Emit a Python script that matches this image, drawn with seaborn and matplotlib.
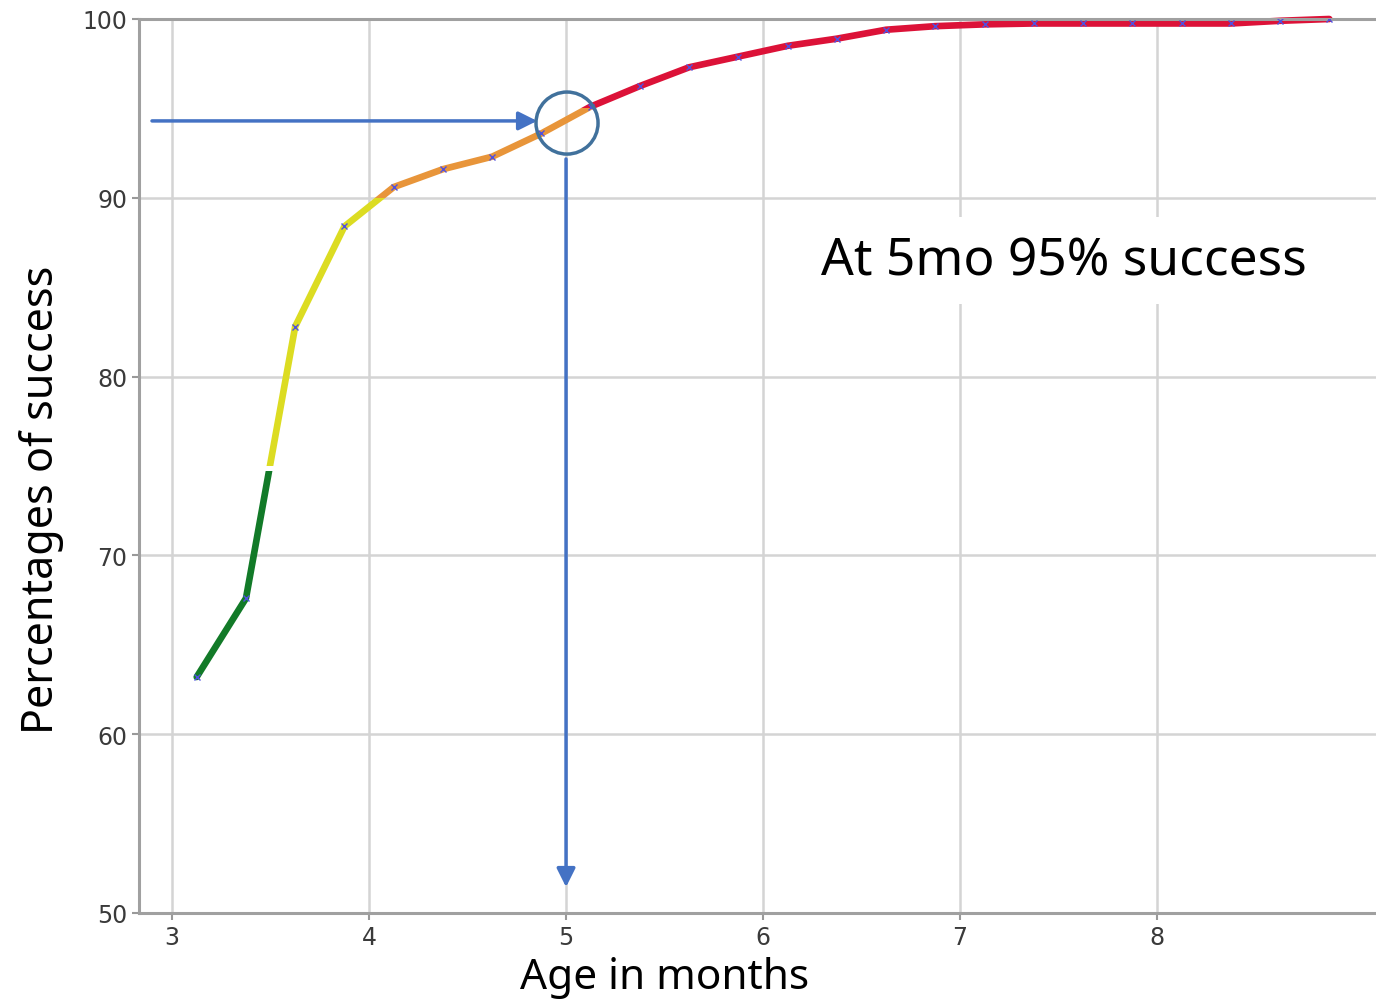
import numpy as np
import pandas as pd
import matplotlib
matplotlib.use("Agg")
import matplotlib.pyplot as plt
from matplotlib.patches import Rectangle, Ellipse
import seaborn as sns

# данные
age_months = [3.125, 3.375, 3.625, 3.875, 4.125, 4.375, 4.625, 4.875,
              5.125, 5.375, 5.625, 5.875, 6.125, 6.375, 6.625, 6.875,
              7.125, 7.375, 7.625, 7.875, 8.125, 8.375, 8.625, 8.875]
success_pct = [63.2, 67.6, 82.8, 88.4, 90.6, 91.6, 92.3, 93.6,
               95.1, 96.25, 97.3, 97.9, 98.5, 98.9, 99.4, 99.6,
               99.7, 99.75, 99.75, 99.75, 99.75, 99.75, 99.9, 100.0]

# цветовые зоны по проценту успеха
band_low = [40.0, 75.0, 90.0, 95.0]
band_high = [74.7, 90.0, 95.0, 101.0]
band_colors = ["#127a28", "#dcdc22", "#e8953a", "#dc1238"]

df = pd.DataFrame({"age": age_months, "pct": success_pct})

sns.set_style("white")
plt.rcParams["font.family"] = ["DejaVu Sans"]

fig = plt.figure(figsize=(13.76, 10.04), dpi=100)
ax = fig.add_axes([139 / 1376, 1 - 914 / 1004, 1 - 139 / 1376, (914 - 20) / 1004])

ax.set_xlim(2.832, 9.112)
ax.set_ylim(50, 100)

# цветные участки через обрезку по горизонтальным полосам
for lo, hi, col in zip(band_low, band_high, band_colors):
    sns.lineplot(data=df, x="age", y="pct", ax=ax, color=col, lw=4.8, zorder=2)
    line = ax.lines[-1]
    clip = Rectangle((0, lo), 20, hi - lo, transform=ax.transData)
    line.set_clip_path(clip)

# мелкие синие маркеры поверх линии
sns.lineplot(data=df, x="age", y="pct", ax=ax, color="#5a5aff", lw=0,
             marker="x", markersize=4, markeredgewidth=1.0,
             markeredgecolor="#5050e0", zorder=4)

ax.set_xticks([3, 4, 5, 6, 7, 8])
ax.set_yticks([50, 60, 70, 80, 90, 100])
ax.grid(True, color="#d4d4d4", lw=1.8, zorder=0)
ax.set_axisbelow(True)
ax.tick_params(axis="both", labelsize=17, labelcolor="#3a3a3a", color="#999999",
               length=5, width=1.5, direction="out", bottom=True, left=True)
for side in ["left", "bottom", "top"]:
    ax.spines[side].set_color("#a0a0a0")
    ax.spines[side].set_linewidth(2.2)
ax.spines["right"].set_visible(False)
ax.set_xlabel("")
ax.set_ylabel("")

# аннотации: стрелки и кружок
arrow_col = "#4472C4"
ax.annotate("", xy=(4.853, 94.3), xytext=(2.898, 94.3),
            arrowprops=dict(arrowstyle="-|>", color=arrow_col, lw=2.5,
                            mutation_scale=28, shrinkA=0, shrinkB=0), zorder=5)
ax.annotate("", xy=(5.0, 51.45), xytext=(5.0, 92.17),
            arrowprops=dict(arrowstyle="-|>", color=arrow_col, lw=2.5,
                            mutation_scale=28, shrinkA=0, shrinkB=0), zorder=5)
ax.add_patch(Ellipse((5.005, 94.18), 0.315, 3.47, fill=False,
                     edgecolor="#41719C", lw=2.5, zorder=6))

ax.text(7.528, 86.47, "At 5mo 95% success", fontsize=37, family=["Noto Sans", "DejaVu Sans"],
        ha="center", va="center", color="black", zorder=7,
        bbox=dict(boxstyle="square,pad=0.35", facecolor="white", edgecolor="none"))

fig.text(665 / 1376, 1 - 978 / 1004, "Age in months", fontsize=30.5, color="black",
         family=["Noto Sans", "DejaVu Sans"], ha="center", va="center")
fig.text(42 / 1376, 1 - 500 / 1004, "Percentages of success", fontsize=31, color="black",
         family=["Noto Sans", "DejaVu Sans"], ha="center", va="center", rotation=90)

fig.savefig("out.png", dpi=100)
